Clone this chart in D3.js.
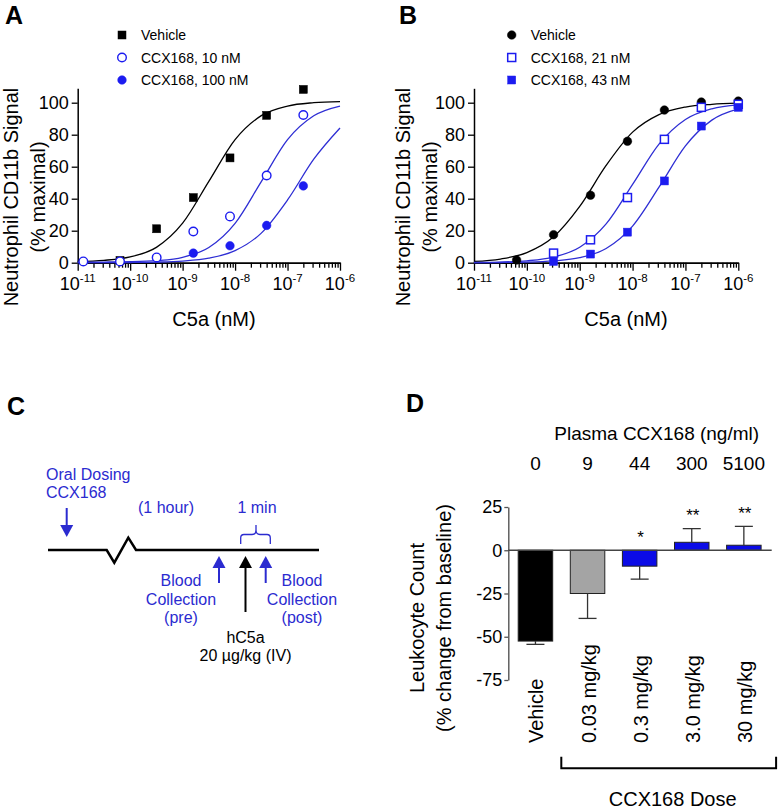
<!DOCTYPE html>
<html>
<head>
<meta charset="utf-8">
<script src="https://cdn.jsdelivr.net/npm/d3@7"></script>
<style>
  body { margin: 0; background: #fff; }
  svg { display: block; font-family: "Liberation Sans", Arial, Helvetica, sans-serif; }
</style>
</head>
<body>
<svg id="fig" width="780" height="810"></svg>
<script>
// Panel A - CD11b signal vs C5a, vehicle and CCX168 10 / 100 nM
var concA = [1.28e-11, 6.4e-11, 3.2e-10, 1.6e-9, 8e-9, 4e-8, 2e-7];
var vehicleA = [null, 1.4, 21.2, 40.7, 65.5, 92.1, 108.3];
var ccx10A = [0.8, 0.8, 3.3, 19.5, 28.9, 54.5, 92.3];
var ccx100A = [null, null, null, 6.0, 10.6, 23.3, 48.0];

// Panel B - vehicle and CCX168 21 / 43 nM
var concB = [6.4e-11, 3.2e-10, 1.6e-9, 8e-9, 4e-8, 2e-7, 1e-6];
var vehicleB = [1.7, 17.5, 42.2, 75.9, 95.4, 100.4, 101.0];
var ccx21B = [null, 6.0, 14.3, 40.7, 77.1, 97.1, 99.0];
var ccx43B = [null, 0.8, 5.4, 19.1, 51.1, 85.4, 97.1];

// fitted curves, every half decade
var fitConc = [1e-11, 3.16e-11, 1e-10, 3.16e-10, 1e-9, 3.16e-9, 1e-8, 3.16e-8, 1e-7, 3.16e-7, 1e-6];
var fitVehicleA = [0.8, 1.5, 3.6, 9.6, 24.7, 50.8, 76.9, 91.9, 97.9, 100.0, 100.7];
var fit10A = [0.3, 0.4, 0.6, 1.3, 3.4, 9.5, 24.6, 50.7, 76.9, 91.8, 97.9];
var fit100A = [0.02, 0.05, 0.13, 0.36, 1.0, 2.8, 7.5, 18.5, 39.2, 64.7, 84.2];
var fitVehicleB = [0.8, 2.3, 6.3, 16.0, 35.2, 60.8, 81.6, 92.6, 97.3, 99.0, 99.7];
var fit21B = [0.13, 0.4, 1.2, 3.5, 9.7, 24.3, 48.9, 74.1, 89.5, 96.2, 98.7];
var fit43B = [0.04, 0.12, 0.35, 1.1, 3.1, 8.9, 22.9, 47.2, 73.0, 89.1, 96.1];

var majorTicks = [1e-11, 1e-10, 1e-9, 1e-8, 1e-7, 1e-6];
var signalTicks = [0, 20, 40, 60, 80, 100];

// Panel D - leukocyte count change
var doses = ["Vehicle", "0.03 mg/kg", "0.3 mg/kg", "3.0 mg/kg", "30 mg/kg"];
var plasmaLevels = ["0", "9", "44", "300", "5100"];
var leukoChange = [-52.5, -25.0, -9.2, 4.6, 2.9];
var leukoErr = [1.9, 14.4, 7.5, 7.9, 10.9];
var signif = ["", "", "*", "**", "**"];
var leukoTicks = [-75, -50, -25, 0, 25];

var svg = d3.select("#fig");
var font = "'Liberation Sans', Arial, Helvetica, sans-serif";
var markBlue = "#1c1cf0";
var lineBlue = "#2e2ed4";
var textBlue = "#2b2bd0";

var panelLetter = function(t, x, y) {
  svg.append("text")
      .attr("x", x).attr("y", y)
      .attr("font-size", 25)
      .attr("font-weight", "bold")
      .text(t);
};

// one marker: square / circle, filled or open
var drawMarker = function(sel, shape, open, color) {
  if (shape === "square") {
    sel.append("rect")
        .attr("x", -4).attr("y", -4)
        .attr("width", 8).attr("height", 8)
        .attr("fill", open ? "#fff" : color)
        .attr("stroke", color)
        .attr("stroke-width", open ? 1.5 : 0.5);
  } else {
    sel.append("circle")
        .attr("r", 4.3)
        .attr("fill", open ? "#fff" : color)
        .attr("stroke", color)
        .attr("stroke-width", open ? 1.4 : 0.5);
  }
};

var drawDose = function(cfg) {
  var g = svg.append("g");
  var x = d3.scaleLog().domain([1e-11, 1e-6]).range([cfg.left, cfg.right]);
  var y = d3.scaleLinear().domain([0, 109]).range([262.7, 88.3]);

  var minorTicks = x.ticks().filter(function(d) {
    var e = Math.log10(d);
    return Math.abs(e - Math.round(e)) > 1e-6;
  });

  var styleAxis = function(a) {
    a.select(".domain").attr("stroke", "#000").attr("stroke-width", 1.5);
    a.selectAll(".tick line").attr("stroke", "#000").attr("stroke-width", 1.3);
  };

  g.append("g")
      .attr("transform", "translate(0," + y(0) + ")")
      .call(d3.axisBottom(x).tickValues(minorTicks).tickSize(5).tickSizeOuter(0).tickFormat(""))
      .call(styleAxis);
  g.append("g")
      .attr("transform", "translate(0," + y(0) + ")")
      .call(d3.axisBottom(x).tickValues(majorTicks).tickSize(8).tickSizeOuter(0).tickFormat(""))
      .call(styleAxis);

  var lab = g.append("g")
    .selectAll("text")
    .data(majorTicks)
    .join("text")
      .attr("x", function(d) { return x(d); })
      .attr("y", y(0) + 27)
      .attr("text-anchor", "middle")
      .attr("font-size", 18);
  lab.append("tspan").text("10");
  lab.append("tspan")
      .attr("font-size", 11.5)
      .attr("dy", -8)
      .text(function(d) { return Math.round(Math.log10(d)); });

  g.append("g")
      .attr("transform", "translate(" + cfg.left + ",0)")
      .call(d3.axisLeft(y).tickValues(signalTicks).tickSize(6).tickPadding(3).tickSizeOuter(0))
      .call(styleAxis)
      .attr("font-size", 18)
      .attr("font-family", font)
      .selectAll("text").attr("fill", "#000");

  // axis titles
  g.append("text")
      .attr("x", cfg.xTitle).attr("y", 326)
      .attr("text-anchor", "middle")
      .attr("font-size", 20)
      .text("C5a (nM)");
  [["Neutrophil CD11b Signal", cfg.yTitle[0]], ["(% maximal)", cfg.yTitle[1]]].forEach(function(t) {
    g.append("text")
        .attr("transform", "translate(" + t[1] + ",197) rotate(-90)")
        .attr("text-anchor", "middle")
        .attr("font-size", 20)
        .text(t[0]);
  });

  var line = d3.line()
      .x(function(d, i) { return x(fitConc[i]); })
      .y(function(d) { return y(d); })
      .curve(d3.curveMonotoneX);

  cfg.series.forEach(function(s) {
    g.append("path")
        .attr("d", line(s.fit))
        .attr("fill", "none")
        .attr("stroke", s.line)
        .attr("stroke-width", 1.3);
  });

  cfg.series.forEach(function(s, k) {
    var pts = cfg.conc
      .map(function(c, i) { return {c: c, v: s.values[i]}; })
      .filter(function(d) { return d.v !== null; });
    g.append("g")
      .selectAll("g")
      .data(pts)
      .join("g")
        .attr("transform", function(d) { return "translate(" + x(d.c) + "," + y(d.v) + ")"; })
        .each(function() { drawMarker(d3.select(this), s.shape, s.open, s.color); });

    // legend
    var ly = 35 + k * 22.5;
    var item = g.append("g").attr("transform", "translate(" + cfg.legendX + "," + ly + ")");
    drawMarker(item, s.shape, s.open, s.color);
    item.append("text")
        .attr("x", 19).attr("y", 5)
        .attr("font-size", 14)
        .text(s.name);
  });
};

panelLetter("A", 5, 24);
drawDose({
  left: 77.7, right: 340, xTitle: 214, yTitle: [18, 45], legendX: 122,
  conc: concA,
  series: [
    {name: "Vehicle", values: vehicleA, fit: fitVehicleA, shape: "square", open: false, color: "#000", line: "#000"},
    {name: "CCX168, 10 nM", values: ccx10A, fit: fit10A, shape: "circle", open: true, color: markBlue, line: lineBlue},
    {name: "CCX168, 100 nM", values: ccx100A, fit: fit100A, shape: "circle", open: false, color: markBlue, line: lineBlue}
  ]
});

panelLetter("B", 399, 24);
drawDose({
  left: 474, right: 738.3, xTitle: 626, yTitle: [410, 436.5], legendX: 511.7,
  conc: concB,
  series: [
    {name: "Vehicle", values: vehicleB, fit: fitVehicleB, shape: "circle", open: false, color: "#000", line: "#000"},
    {name: "CCX168, 21 nM", values: ccx21B, fit: fit21B, shape: "square", open: true, color: markBlue, line: lineBlue},
    {name: "CCX168, 43 nM", values: ccx43B, fit: fit43B, shape: "square", open: false, color: markBlue, line: lineBlue}
  ]
});

// Panel C - dosing timeline schematic
panelLetter("C", 7, 415);
var gc = svg.append("g").attr("font-size", 16);

gc.append("path")
    .attr("d", "M48,550 H106.7 L114.3,562.7 L128.3,537.7 L136,550 H319")
    .attr("fill", "none")
    .attr("stroke", "#000")
    .attr("stroke-width", 2.5)
    .attr("stroke-linejoin", "miter");

var arrow = function(x, tail, tip, color) {
  var dir = tip > tail ? 1 : -1;
  var base = tip - dir * 12;
  gc.append("line")
      .attr("x1", x).attr("x2", x)
      .attr("y1", tail).attr("y2", base)
      .attr("stroke", color)
      .attr("stroke-width", 2);
  gc.append("path")
      .attr("d", "M" + (x - 6.5) + "," + base + " L" + (x + 6.5) + "," + base + " L" + x + "," + tip + "Z")
      .attr("fill", color);
};
arrow(66.7, 508, 537, textBlue);
arrow(219, 583, 556, textBlue);
arrow(245.5, 612, 556, "#000");
arrow(265.7, 583, 556, textBlue);

gc.append("path")
    .attr("d", "M240.7,544 V538 Q240.7,534.5 244,534.5 H252 Q256,534.5 256,530 V525 M256,530 Q256,534.5 260,534.5 H267 Q270.3,534.5 270.3,538 V544")
    .attr("fill", "none")
    .attr("stroke", textBlue)
    .attr("stroke-width", 1.3);

var ctext = function(t, x, y, anchor, color) {
  gc.append("text")
      .attr("x", x).attr("y", y)
      .attr("text-anchor", anchor)
      .attr("fill", color)
      .text(t);
};
ctext("Oral Dosing", 46, 479.5, "start", textBlue);
ctext("CCX168", 46, 498.3, "start", textBlue);
ctext("(1 hour)", 166, 513.3, "middle", textBlue);
ctext("1 min", 257, 513.3, "middle", textBlue);
ctext("Blood", 181, 586, "middle", textBlue);
ctext("Collection", 181, 605, "middle", textBlue);
ctext("(pre)", 181, 623, "middle", textBlue);
ctext("Blood", 302, 586, "middle", textBlue);
ctext("Collection", 302, 605, "middle", textBlue);
ctext("(post)", 302, 623, "middle", textBlue);
ctext("hC5a", 245.5, 643, "middle", "#000");
ctext("20 \u00b5g/kg (IV)", 245.5, 661, "middle", "#000");

// Panel D - bar chart
panelLetter("D", 406, 412);
var gd = svg.append("g");
var xD = d3.scaleBand().domain(doses).range([508.3, 771]).paddingInner(0.338).paddingOuter(0.19);
var yD = d3.scaleLinear().domain([-75, 25]).range([680, 507]);
var barFill = d3.scaleOrdinal().domain(doses).range(["#000", "#a4a4a4", "#0b0be6", "#0b0be6", "#0b0be6"]);
var bw = xD.bandwidth();

gd.append("text")
    .attr("x", xD(doses[4]) + bw - 2).attr("y", 440)
    .attr("text-anchor", "end")
    .attr("font-size", 19)
    .text("Plasma CCX168 (ng/ml)");
gd.append("g")
  .selectAll("text")
  .data(plasmaLevels)
  .join("text")
    .attr("x", function(d, i) { return xD(doses[i]) + bw / 2; })
    .attr("y", 470)
    .attr("text-anchor", "middle")
    .attr("font-size", 19)
    .text(function(d) { return d; });

gd.append("g")
    .attr("transform", "translate(508.3,0)")
    .call(d3.axisLeft(yD).tickValues(leukoTicks).tickSize(4).tickPadding(2).tickSizeOuter(0)
      .tickFormat(function(d) { return String(d); }))
    .call(function(a) {
      a.select(".domain").attr("stroke", "#555").attr("stroke-width", 1.4);
      a.selectAll(".tick line").attr("stroke", "#555").attr("stroke-width", 1.3);
    })
    .attr("font-size", 18)
    .attr("font-family", font)
    .selectAll("text").attr("fill", "#000");

gd.append("g")
  .selectAll("rect")
  .data(leukoChange)
  .join("rect")
    .attr("x", function(d, i) { return xD(doses[i]); })
    .attr("y", function(d) { return Math.min(yD(d), yD(0)); })
    .attr("width", bw)
    .attr("height", function(d) { return Math.abs(yD(d) - yD(0)); })
    .attr("fill", function(d, i) { return barFill(doses[i]); })
    .attr("stroke", "#222")
    .attr("stroke-width", 1);

gd.append("line")
    .attr("x1", 508.3).attr("x2", 771.7)
    .attr("y1", yD(0)).attr("y2", yD(0))
    .attr("stroke", "#444")
    .attr("stroke-width", 1.4);

var err = gd.append("g")
    .attr("stroke", "#333")
    .attr("stroke-width", 1.3)
  .selectAll("g")
  .data(leukoChange)
  .join("g")
    .attr("transform", function(d, i) { return "translate(" + (xD(doses[i]) + bw / 2) + ",0)"; });
err.append("line")
    .attr("y1", function(d) { return yD(d); })
    .attr("y2", function(d, i) { return yD(d + Math.sign(d) * leukoErr[i]); });
err.append("line")
    .attr("x1", -9).attr("x2", 9)
    .attr("y1", function(d, i) { return yD(d + Math.sign(d) * leukoErr[i]); })
    .attr("y2", function(d, i) { return yD(d + Math.sign(d) * leukoErr[i]); });

gd.append("g")
  .selectAll("text")
  .data(signif)
  .join("text")
    .attr("x", function(d, i) { return xD(doses[i]) + bw / 2 + 1; })
    .attr("y", function(d, i) {
      var top = Math.max(0, leukoChange[i] + leukoErr[i]);
      return yD(top) - 7.5;
    })
    .attr("text-anchor", "middle")
    .attr("font-size", 17)
    .text(function(d) { return d; });

gd.append("g")
  .selectAll("text")
  .data(doses)
  .join("text")
    .attr("transform", function(d) { return "translate(" + (xD(d) + bw / 2 + 8) + ",743) rotate(-90)"; })
    .attr("font-size", 20)
    .text(function(d) { return d; });

[["Leukocyte Count", 424.3], ["(% change from baseline)", 451.3]].forEach(function(t) {
  gd.append("text")
      .attr("transform", "translate(" + t[1] + ",618) rotate(-90)")
      .attr("text-anchor", "middle")
      .attr("font-size", 20)
      .text(t[0]);
});

var bx0 = xD(doses[1]) - 9;
var bx1 = xD(doses[4]) + bw + 15;
gd.append("path")
    .attr("d", "M" + bx0 + ",756.7 V768.3 H" + bx1 + " V756.7")
    .attr("fill", "none")
    .attr("stroke", "#000")
    .attr("stroke-width", 2);
gd.append("text")
    .attr("x", (bx0 + bx1) / 2 + 4).attr("y", 806)
    .attr("text-anchor", "middle")
    .attr("font-size", 20)
    .text("CCX168 Dose");
</script>
</body>
</html>
